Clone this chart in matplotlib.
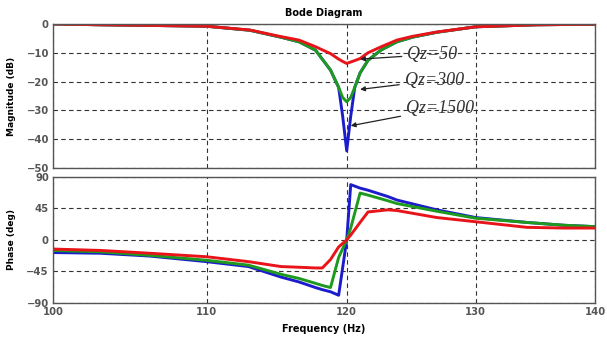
import numpy as np
import matplotlib
matplotlib.use('Agg')
import matplotlib.pyplot as plt
from matplotlib.ticker import FixedLocator, FixedFormatter, NullLocator

# magnitude curves
freq_mag = [100, 103, 106, 110, 113, 115.2, 116.5, 117.7, 118.8, 119.4, 119.7,
            120, 120.3, 120.6, 121, 121.6, 122.6, 123.8, 125, 126.9, 130, 135, 140]
mag_q50 = [0, -0.3, -0.5, -0.8, -2.1, -4.4, -5.6, -7.9, -10.3, -12.2, -13.0,
           -13.7, -13.2, -12.7, -12.0, -10.0, -7.9, -5.6, -4.3, -2.8, -1.0, -0.3, -0.1]
mag_q300 = [0, -0.3, -0.5, -0.8, -2.2, -4.6, -6.2, -9.1, -16, -22, -25.5,
            -27, -25.5, -22, -17, -12.6, -9.0, -6.2, -4.6, -2.9, -1.0, -0.3, -0.1]
mag_q1500 = [0, -0.3, -0.5, -0.8, -2.2, -4.6, -6.2, -9.1, -16, -22, -32,
             -44, -32, -22, -17, -12.6, -9.0, -6.2, -4.6, -2.9, -1.0, -0.3, -0.1]

# phase curves
freq_ph = [100, 103, 106.2, 110, 112.9, 115.2, 116.5, 117.7, 118.2, 118.8, 119.4,
           120, 120.3, 121, 121.6, 123.1, 123.8, 126.9, 130, 134.2, 137.3, 140]
ph_q50 = [-13, -15, -19, -24, -31, -38, -39, -40, -40, -28, -10,
          0, 7, 25, 40, 43, 42, 32, 26, 18, 17, 17]
ph_q300 = [-15, -17, -22, -29, -36, -49, -55, -62, -65, -68, -25,
           0, 17, 67, 64, 56, 52, 41, 31, 25, 21, 19]
ph_q1500 = [-18, -19, -23, -31, -38, -53, -60, -68, -71, -74, -79,
            0, 79, 74, 71, 62, 57, 43, 32, 25, 21, 19]

x_ticks = [100, 110, 120, 130, 140]
mag_ticks = [0, -10, -20, -30, -40, -50]
ph_ticks = [90, 45, 0, -45, -90]

labels = ['Qz=50', 'Qz=300', 'Qz=1500']
arrow_head = [(121.0, -12.2), (121.0, -22.7), (120.3, -35.3)]
text_pos = [(124.6, -10.6), (124.4, -19.6), (124.5, -29.4)]

c_red, c_green, c_blue = '#e8141a', '#1e9a1e', '#1c1ccc'

fig = plt.figure(figsize=(6.07, 3.37), dpi=100)
ax1 = fig.add_axes([0.0873, 0.501, 0.893, 0.428])
ax2 = fig.add_axes([0.0873, 0.101, 0.893, 0.374])

ax1.plot(freq_mag, mag_q1500, color=c_blue, lw=2.1)
ax1.plot(freq_mag, mag_q300, color=c_green, lw=2.1)
ax1.plot(freq_mag, mag_q50, color=c_red, lw=2.1)

ax2.plot(freq_ph, ph_q1500, color=c_blue, lw=2.1)
ax2.plot(freq_ph, ph_q300, color=c_green, lw=2.1)
ax2.plot(freq_ph, ph_q50, color=c_red, lw=2.1)

for ax, ticks, lim in [(ax1, mag_ticks, (-50, 0)), (ax2, ph_ticks, (-90, 90))]:
    ax.set_xscale('log')
    ax.set_xlim(100, 140)
    ax.set_ylim(*lim)
    ax.xaxis.set_major_locator(FixedLocator(x_ticks))
    ax.xaxis.set_minor_locator(NullLocator())
    ax.xaxis.set_major_formatter(FixedFormatter([str(t) for t in x_ticks]))
    ax.set_yticks(ticks)
    ax.grid(True, color='#333333', ls=(0, (4, 3)), lw=0.8)
    ax.tick_params(length=0, labelsize=7.2, colors='#555555', pad=3)
    for lab in ax.get_xticklabels() + ax.get_yticklabels():
        lab.set_fontweight('bold')
    for sp in ax.spines.values():
        sp.set_color('#555555')
        sp.set_linewidth(1.0)

ax1.tick_params(labelbottom=False)

ax1.set_title('Bode Diagram', fontsize=7, fontweight='bold', pad=6)
ax1.set_ylabel('Magnitude (dB)', fontsize=6.5, fontweight='bold')
ax2.set_ylabel('Phase (deg)', fontsize=6.5, fontweight='bold')
ax2.set_xlabel('Frequency (Hz)', fontsize=7, fontweight='bold', labelpad=5)
ax1.yaxis.set_label_coords(-0.068, 0.5)
ax2.yaxis.set_label_coords(-0.068, 0.5)

for lab, head, tp in zip(labels, arrow_head, text_pos):
    ax1.annotate(lab, xy=head, xytext=tp, fontsize=13, style='italic',
                 family='Liberation Serif', color='#333333', va='center', ha='left',
                 arrowprops=dict(arrowstyle='-|>', color='#222222', lw=0.9,
                                 mutation_scale=7, shrinkA=2, shrinkB=0))

fig.savefig('out.png', dpi=100)
